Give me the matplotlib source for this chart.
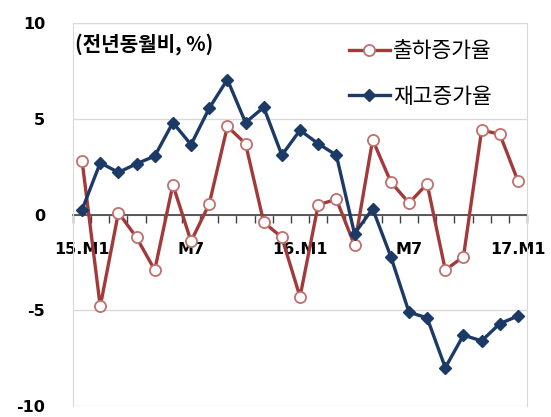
import matplotlib
matplotlib.use("Agg")
from matplotlib import pyplot as plt
import numpy as np

plt.rcParams['font.family'] = ['Noto Sans CJK KR', 'DejaVu Sans']

months = ["15.M1", "M2", "M3", "M4", "M5", "M6", "M7", "M8", "M9", "M10", "M11", "M12",
          "16.M1", "M2", "M3", "M4", "M5", "M6", "M7", "M8", "M9", "M10", "M11", "M12",
          "17.M1"]
shipment = [2.8, -4.8, 0.1, -1.2, -2.9, 1.55, -1.4, 0.55, 4.6, 3.7, -0.4, -1.2,
            -4.3, 0.5, 0.8, -1.6, 3.9, 1.7, 0.6, 1.6, -2.9, -2.2, 4.4, 4.2, 1.75]
inventory = [0.25, 2.7, 2.2, 2.65, 3.05, 4.8, 3.65, 5.55, 7.05, 4.8, 5.6, 3.1,
             4.4, 3.7, 3.1, -1.0, 0.3, -2.2, -5.1, -5.4, -8.0, -6.3, -6.6, -5.7, -5.3]
label_idx = [0, 6, 12, 18, 24]
tick_text = ["15.M1", "M7", "16.M1", "M7", "17.M1"]

red = "#A33A3A"
navy = "#1B3A66"

fig = plt.figure(figsize=(5.51, 4.17), dpi=100)
ax = fig.add_axes([0.1325, 0.0264, 0.824, 0.9184])

x = np.arange(len(months))
ax.plot(x, shipment, color=red, lw=2.4, marker="o", ms=8, mfc="white",
        mec="#C0706E", mew=1.3, label="출하증가율", zorder=3)
ax.plot(x, inventory, color=navy, lw=2.4, marker="D", ms=6, mfc=navy,
        mec=navy, label="재고증가율", zorder=4)

ax.set_xlim(-0.5, len(months) - 0.5)
ax.set_ylim(-10, 10)
ax.set_yticks([-10, -5, 0, 5, 10])
ax.set_yticklabels(["-10", "-5", "0", "5", "10"], fontsize=11.5, fontweight="bold",
                   family="DejaVu Sans")
ax.tick_params(axis="y", length=0, pad=20)
ax.grid(axis="y", color="#D9D9D9", lw=1)
ax.set_axisbelow(True)

ax.spines["bottom"].set_position(("data", 0))
ax.spines["bottom"].set_color("#404040")
ax.spines["bottom"].set_linewidth(1.2)
ax.spines["bottom"].set_zorder(2)
for s in ("left", "right", "top"):
    ax.spines[s].set_color("#D9D9D9")

ax.set_xticks(label_idx)
ax.set_xticklabels(tick_text, fontsize=11.5, fontweight="bold", family="DejaVu Sans")
ax.set_xticks(np.arange(-0.5, len(months)), minor=True)
ax.tick_params(axis="x", which="major", length=0, pad=20)
ax.tick_params(axis="x", which="minor", length=6, width=1, color="#404040", direction="out")

ax.text(0.005, 0.975, "(전년동월비, %)", transform=ax.transAxes, fontsize=14.5,
        fontweight="bold", va="top", ha="left")

ax.legend(loc="upper left", bbox_to_anchor=(0.607, 0.955), frameon=False, fontsize=15.5,
          handlelength=1.9, handletextpad=0.15, labelspacing=1.08,
          borderaxespad=0, borderpad=0)

fig.savefig("out.png", dpi=100)
